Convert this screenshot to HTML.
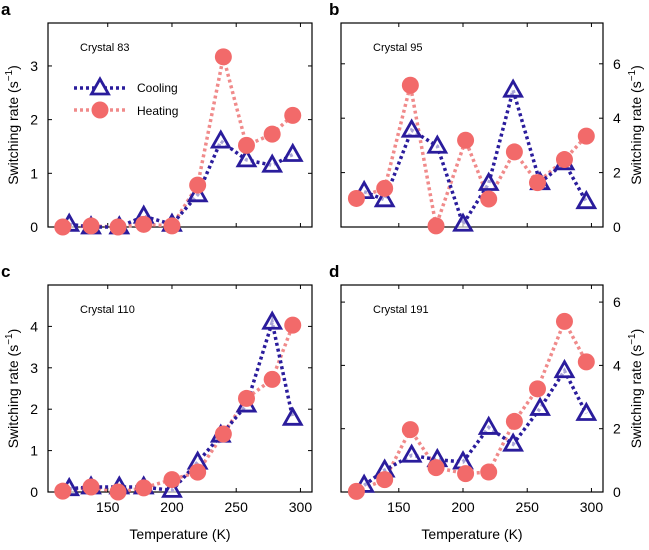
<!DOCTYPE html>
<html><head><meta charset="utf-8"><style>
body{margin:0;background:#fff;}
svg{font-family:"Liberation Sans",sans-serif;}
</style></head><body>
<svg id="fig" width="649" height="545" viewBox="0 0 649 545"></svg>
<script>
const xTicks=[150,200,250,300];
const coolT_a=[120,137,159,178,200,220,238,258,278,294];
const heatT_a=[115,137,158,178,200,220,240,258,278,294];
const cool_a=[0.05,0,0,0.2,0.05,0.6,1.6,1.25,1.15,1.35];
const heat_a=[0,0.02,0,0.05,0.02,0.78,3.17,1.52,1.73,2.08];
const coolT_b=[123,139,160,180,200,220,239,260,279,296];
const heatT_b=[117,139,159,179,202,220,240,258,279,296];
const cool_b=[1.3,1.0,3.56,2.97,0.1,1.6,5.03,1.63,2.36,0.93];
const heat_b=[1.05,1.42,5.21,0.04,3.19,1.03,2.76,1.63,2.48,3.34];
const cool_c=[0.08,0.12,0.12,0.12,0.04,0.72,1.37,2.1,4.1,1.78];
const heat_c=[0.02,0.12,0,0.1,0.3,0.48,1.4,2.26,2.72,4.03];
const cool_d=[0.21,0.69,1.16,1.02,0.95,2.04,1.51,2.64,3.83,2.48];
const heat_d=[0.02,0.39,1.97,0.77,0.58,0.63,2.23,3.26,5.39,4.11];
const yTicks_a=[0,1,2,3], yTicks_b=[0,2,4,6], yTicks_c=[0,1,2,3,4], yTicks_d=[0,2,4,6];

const NS="http://www.w3.org/2000/svg";
const svg=document.getElementById('fig');
function mk(tag,attrs,parent){const e=document.createElementNS(NS,tag);for(const k in attrs)e.setAttribute(k,attrs[k]);(parent||svg).appendChild(e);return e;}
const BLUE="#2a1c9c", RED="#f26a6a";

function panel(o){
  const g=mk('g',{});
  
  
  const sx=v=>o.x0+(v-o.xmin)/(o.xmax-o.xmin)*(o.x1-o.x0);
  const sy=v=>o.y1-(v-0)/(o.ymax)*(o.y1-o.y0);
  const box=mk('rect',{x:o.x0,y:o.y0,width:o.x1-o.x0,height:o.y1-o.y0,fill:'none',stroke:'#000','stroke-width':1.2},g);
  
  
  xTicks.forEach(t=>{const x=sx(t);
    mk('line',{x1:x,x2:x,y1:o.y1,y2:o.y1-4,stroke:'#000'},g);
    mk('line',{x1:x,x2:x,y1:o.y0,y2:o.y0+4,stroke:'#000'},g);
    if(o.xlabels){const t2=mk('text',{x:x,y:o.y1+20,'text-anchor':'middle','font-size':14},g);t2.textContent=t;
      
      }
  });
  o.yTicks.forEach(t=>{const y=sy(t);
    mk('line',{x1:o.x0,x2:o.x0+4,y1:y,y2:y,stroke:'#000'},g);
    mk('line',{x1:o.x1,x2:o.x1-4,y1:y,y2:y,stroke:'#000'},g);
    const tx=mk('text',{x:o.right?o.x1+10:o.x0-10,y:y+5,'text-anchor':o.right?'start':'end','font-size':14},g);tx.textContent=t;
    
    
  });
  const yc=(o.y0+o.y1)/2, lx=o.right?o.x1+38:o.x0-30;
  const yl=mk('text',{x:lx,y:yc,'text-anchor':'middle','font-size':14,transform:`rotate(-90 ${lx} ${yc})`},g);
  yl.innerHTML='Switching rate (s<tspan dy="-6" font-size="10">−1</tspan><tspan dy="6">)</tspan>';
  
  
  if(o.xlabels){const xl=mk('text',{x:(o.x0+o.x1)/2,y:o.y1+47,'text-anchor':'middle','font-size':14},g);xl.textContent='Temperature (K)';
    
    }
  const L=mk('text',{x:o.x0-48+(o.right?-12:0)+ (o.right?0:0),y:o.y0-8,'font-size':17,'font-weight':'bold'},g);
  L.setAttribute('x',o.right?o.x0-12:o.x0-47);
  L.textContent=o.letter;
  
  
  const ct=mk('text',{x:o.x0+32,y:o.y0+28,'font-size':11},g);ct.textContent=o.title;
  
  
  // heating line
  const hp=o.heatT.map((t,i)=>sx(t)+','+sy(o.heat[i])).join(' ');
  const hl=mk('polyline',{points:hp,fill:'none',stroke:'#f08a8a','stroke-width':3.5,'stroke-dasharray':'3 3'},g);
  
  
  const cp=o.coolT.map((t,i)=>sx(t)+','+sy(o.cool[i])).join(' ');
  const cl=mk('polyline',{points:cp,fill:'none',stroke:BLUE,'stroke-width':3.5,'stroke-dasharray':'3 3'},g);
  
  
  o.coolT.forEach((t,i)=>{const x=sx(t),y=sy(o.cool[i]);
    const p=mk('polygon',{points:`${x},${y-9} ${x-8.5},${y+6} ${x+8.5},${y+6}`,fill:'#fff','fill-opacity':0.6,stroke:BLUE,'stroke-width':2.8},g);
    
    
  });
  o.heatT.forEach((t,i)=>{const x=sx(t),y=sy(o.heat[i]);
    const c=mk('circle',{cx:x,cy:y,r:8.5,fill:RED},g);
    
    
  });
}
panel({letter:'a',title:'Crystal 83',x0:48,x1:312,y0:23,y1:227,xmin:103.5,xmax:309,ymax:3.8,yTicks:yTicks_a,coolT:coolT_a,heatT:heatT_a,cool:cool_a,heat:heat_a});
panel({letter:'b',title:'Crystal 95',x0:341,x1:603,y0:23,y1:227,xmin:105,xmax:309,ymax:7.5,yTicks:yTicks_b,right:true,coolT:coolT_b,heatT:heatT_b,cool:cool_b,heat:heat_b});
panel({letter:'c',title:'Crystal 110',x0:48,x1:312,y0:285,y1:492,xmin:103.5,xmax:309,ymax:5.0,yTicks:yTicks_c,xlabels:true,coolT:coolT_a,heatT:heatT_a,cool:cool_c,heat:heat_c});
panel({letter:'d',title:'Crystal 191',x0:341,x1:603,y0:285,y1:492,xmin:105,xmax:309,ymax:6.54,yTicks:yTicks_d,right:true,xlabels:true,coolT:coolT_b,heatT:heatT_b,cool:cool_d,heat:heat_d});
// legend
const lg=mk('g',{});


mk('line',{x1:74,x2:127,y1:88,y2:88,stroke:BLUE,'stroke-width':3.5,'stroke-dasharray':'3 3'},lg);
mk('polygon',{points:'100,79 91.5,94 108.5,94',fill:'#fff',stroke:BLUE,'stroke-width':2.8},lg);
const t1=mk('text',{x:137,y:92,'font-size':12},lg);t1.textContent='Cooling';


mk('line',{x1:74,x2:127,y1:110,y2:110,stroke:'#f08a8a','stroke-width':3.5,'stroke-dasharray':'3 3'},lg);
mk('circle',{cx:100,cy:110,r:8.5,fill:RED},lg);
const t2=mk('text',{x:137,y:115,'font-size':12},lg);t2.textContent='Heating';


</script>
</body></html>
